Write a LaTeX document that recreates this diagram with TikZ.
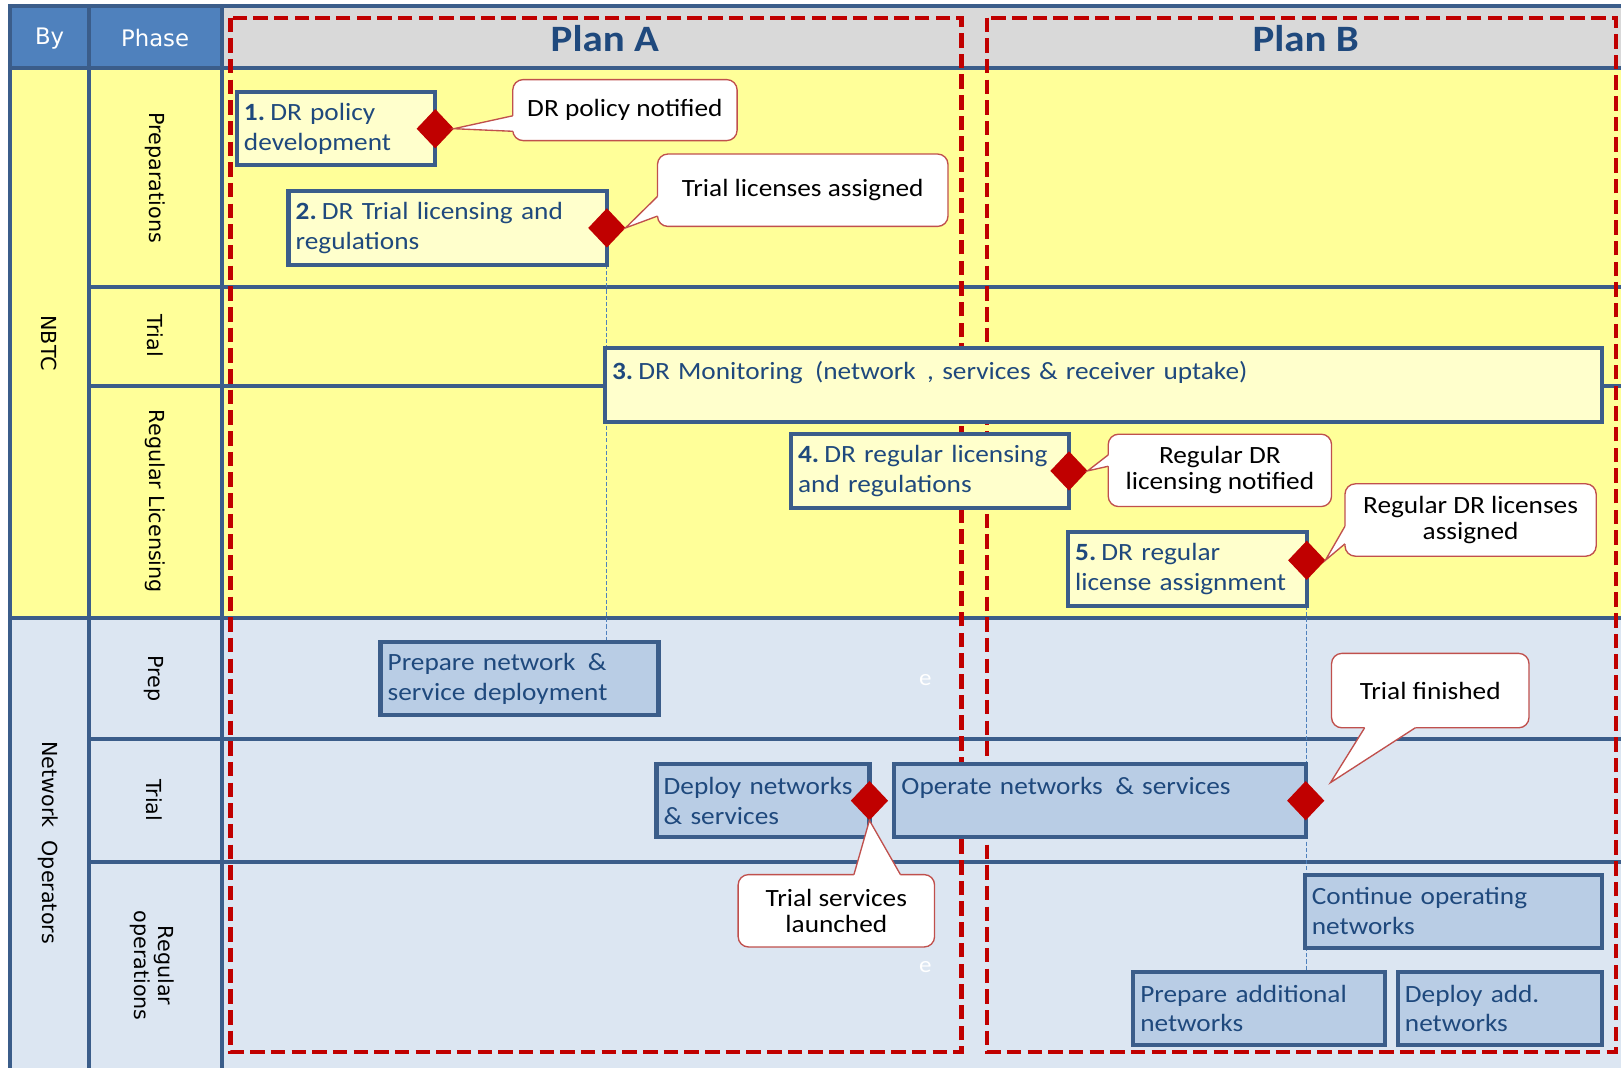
\documentclass[tikz,border=0pt]{standalone}
\usepackage{fontspec}
\setmainfont{Carlito}[FakeStretch=1.10]
\newfontfamily\labfont{DejaVu Sans}
\usetikzlibrary{shapes.geometric,calc}

\definecolor{gridc}{HTML}{3B5D8A}
\definecolor{hdrblue}{HTML}{4F81BD}
\definecolor{hdrgray}{HTML}{D9D9D9}
\definecolor{laneY}{HTML}{FFFF99}
\definecolor{laneB}{HTML}{DCE6F2}
\definecolor{taskY}{HTML}{FFFFCC}
\definecolor{taskB}{HTML}{B9CDE5}
\definecolor{taskT}{HTML}{1F497D}
\definecolor{msRed}{HTML}{C00000}
\definecolor{coRed}{HTML}{C0504D}

\tikzset{
  gridline/.style={draw=gridc, line width=4pt},
  planbox/.style={draw=msRed, line width=4pt, dash pattern=on 14pt off 6pt},
  guide/.style={draw=hdrblue, line width=0.8pt, dash pattern=on 4pt off 2pt},
  taskbox/.style={draw=gridc, line width=4pt, anchor=north west, inner xsep=7pt, inner ysep=0pt,
    outer sep=0pt, align=left, text=taskT, font=\fontsize{24}{29}\selectfont},
  yellowtask/.style={taskbox, fill=taskY},
  bluetask/.style={taskbox, fill=taskB},
  milestone/.style={diamond, fill=msRed, minimum width=36pt, minimum height=38pt, inner sep=0pt, outer sep=0pt},
  callout/.style={draw=coRed, line width=1.3pt, fill=white, rounded corners=10pt, align=center,
    outer sep=0pt, font=\fontsize{24}{25}\selectfont, text=black},
  rotlab/.style={rotate=-90, font=\labfont\fontsize{20}{23}\selectfont, align=center, text=black},
  hdrlab/.style={text=white, font=\labfont\fontsize{22}{26}\selectfont},
  planlab/.style={text=taskT, font=\bfseries\fontsize{36}{40}\selectfont}
}

\newcommand\calloutptr[4]{%
  \fill[white] ($(#1)+(#4)$) -- (#1) -- (#2) -- (#3) -- ($(#3)+(#4)$) -- cycle;
  \draw[coRed, line width=1.3pt, line join=miter] (#1) -- (#2) -- (#3);}
\newcommand\num[1]{\textbf{#1}\hspace{5pt}}

\begin{document}
\begin{tikzpicture}[x=1pt,y=-1pt]
\useasboundingbox (0,0) rectangle (1568,1033);
\fill[white] (0,0) rectangle (1568,1033);

% lane backgrounds
\fill[hdrblue] (10,6) rectangle (215,66);
\fill[hdrgray] (215,6) rectangle (1568,66);
\fill[laneY] (10,66) rectangle (1568,598);
\fill[laneB] (10,598) rectangle (1568,1033);

% grid lines
\draw[gridline] (8,6) -- (1570,6);
\draw[gridline] (8,66) -- (1570,66);
\draw[gridline] (10,4) -- (10,1040);
\draw[gridline] (86,4) -- (86,1040);
\draw[gridline] (215,4) -- (215,1040);
\draw[gridline] (86,278) -- (1570,278);
\draw[gridline] (86,373) -- (1570,373);
\draw[gridline] (8,598) -- (1570,598);
\draw[gridline] (86,715) -- (1570,715);
\draw[gridline] (86,834) -- (1570,834);

% header labels
\node[hdrlab] (hBy) at (48,37) {By};
\node[hdrlab] (hPhase) at (150,37) {Phase};
\node[planlab] (hPlanA) at (585,37) {Plan A};
\node[planlab] (hPlanB) at (1263,37) {Plan B};

% row labels
\node[rotlab] (lNBTC) at (47,332) {NBTC};
\node[rotlab] (lNO) at (47,815) {Network\ \ Operators};
\node[rotlab] (lPrepA) at (150,172) {Preparations};
\node[rotlab] (lTrialA) at (150,325) {Trial};
\node[rotlab] (lRegLic) at (150,485) {Regular Licensing};
\node[rotlab] (lPrepB) at (149,656) {Prep};
\node[rotlab] (lTrialB) at (149,774) {Trial};
\node[rotlab] (lRegOps) at (147,934) {Regular\\operations};

% plan frames
\draw[planbox] (223,17) rectangle (930,1018);
\draw[planbox] (955,17) rectangle (1563,1018);

% faint letters
\node[text=white, font=\fontsize{22}{24}\selectfont] (e1) at (895,658) {e};
\node[text=white, font=\fontsize{22}{24}\selectfont] (e2) at (895,935) {e};

% guides (behind boxes)
\draw[guide] (587,256) -- (587,621);
\draw[guide] (1264,586) -- (1264,950);

% NBTC tasks
\node[yellowtask, minimum width=192pt, minimum height=71pt, text width=178pt] (t1) at (229,89)
  {\num{1.}DR policy\\development};
\node[yellowtask, minimum width=308pt, minimum height=71pt, text width=294pt] (t2) at (279,185)
  {\num{2.}DR Trial licensing and\\regulations};
\node[yellowtask, minimum width=965pt, minimum height=71pt, text width=951pt] (t3) at (585,337)
  {\num{3.}DR Monitoring\hspace{4pt} (network\hspace{3pt} , services \& receiver uptake)\\\mbox{}};
\node[yellowtask, minimum width=269pt, minimum height=71pt, text width=255pt] (t4) at (765,420)
  {\num{4.}DR regular licensing\\and regulations};
\node[yellowtask, minimum width=231pt, minimum height=71pt, text width=217pt] (t5) at (1033,515)
  {\num{5.}DR regular\\license assignment};

% operator tasks
\node[bluetask, minimum width=269pt, minimum height=71pt, text width=255pt] (t6) at (368,621)
  {Prepare network\hspace{4pt} \&\\service deployment};
\node[bluetask, minimum width=206pt, minimum height=71pt, text width=192pt] (t7) at (635,739)
  {Deploy networks\\\& services};
\node[bluetask, minimum width=398pt, minimum height=71pt, text width=384pt] (t8) at (865,739)
  {Operate networks\hspace{4pt} \& services\\\mbox{}};
\node[bluetask, minimum width=288pt, minimum height=71pt, text width=274pt] (t9) at (1262,846)
  {Continue operating\\networks};
\node[bluetask, minimum width=244pt, minimum height=71pt, text width=230pt] (t10) at (1096,940)
  {Prepare additional\\networks};
\node[bluetask, minimum width=198pt, minimum height=71pt, text width=184pt] (t11) at (1352,940)
  {Deploy add.\\networks};

% milestones
\node[milestone] (m1) at (t1.east) {};
\node[milestone] (m2) at (t2.east) {};
\node[milestone] (m4) at (t4.east) {};
\node[milestone] (m5) at (1264,542) {};
\node[milestone] (m6) at (t7.east) {};
\node[milestone] (m7) at (t8.east) {};

% callouts
\node[callout, minimum width=217pt, minimum height=59pt] (c1) at (604.5,106.5) {DR policy notified};
\node[callout, minimum width=281pt, minimum height=70pt] (c2) at (776.5,184) {Trial licenses assigned};
\node[callout, minimum width=216pt, minimum height=70pt] (c4) at (1180,455) {Regular DR\\licensing notified};
\node[callout, minimum width=243pt, minimum height=70pt] (c5) at (1422.5,503) {Regular DR licenses\\assigned};
\node[callout, minimum width=190pt, minimum height=70pt] (c6) at (809,881) {Trial services\\launched};
\node[callout, minimum width=191pt, minimum height=72pt] (c7) at (1383.5,668) {Trial finished};

% callout pointers
\coordinate (b1a) at (496,112); \coordinate (b1b) at (496,127);
\calloutptr{b1a}{m1.east}{b1b}{3,0}
\coordinate (b2a) at (636,190); \coordinate (b2b) at (636,209);
\calloutptr{b2a}{m2.east}{b2b}{3,0}
\coordinate (b4a) at (1072,440); \coordinate (b4b) at (1072,451);
\calloutptr{b4a}{m4.east}{b4b}{3,0}
\coordinate (b5a) at (1301,509); \coordinate (b5b) at (1301,526);
\calloutptr{b5a}{m5.east}{b5b}{3,0}
\coordinate (b6a) at (826,846); \coordinate (b6b) at (871,846);
\calloutptr{b6a}{m6.south}{b6b}{0,3}
\coordinate (tip7) at (1287,757);
\coordinate (b7a) at (1320,704); \coordinate (b7b) at (1369,704);
\calloutptr{b7a}{tip7}{b7b}{0,-3}
\end{tikzpicture}
\end{document}
